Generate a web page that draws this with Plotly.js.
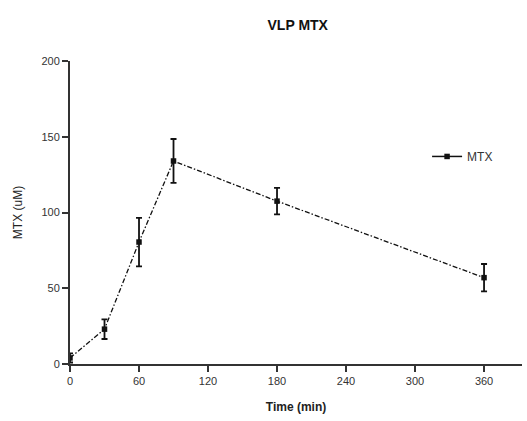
<!DOCTYPE html>
<html>
<head>
<meta charset="utf-8">
<script src="https://cdn.plot.ly/plotly-3.0.1.min.js"></script>
<style>html,body{margin:0;padding:0;background:#fff;}#chart{width:527px;height:421px;}</style>
</head>
<body>
<div id="chart"></div>
<script>
const timeMin = [0, 30, 60, 90, 180, 360];
const mtx = [4, 23, 80.5, 134, 107.5, 57];
const mtxErr = [3, 6.5, 16, 14.5, 8.7, 9];
const xTicks = [0, 60, 120, 180, 240, 300, 360];
const yTicks = [0, 50, 100, 150, 200];
const seriesName = 'MTX';

const trace = {
  x: timeMin, y: mtx, name: seriesName, type: 'scatter', mode: 'lines+markers', showlegend: false,
  line: {color: '#111', width: 1.3, dash: '5px,2px,1.5px,2px'},
  marker: {symbol: 'square', size: 5.5, color: '#111'},
  error_y: {type: 'data', array: mtxErr, visible: true, color: '#111', thickness: 1.8, width: 3}
};
// legend entry (solid line as in the reference legend)
const legendTrace = {
  x: [null], y: [null], name: seriesName, type: 'scatter', mode: 'lines+markers',
  line: {color: '#111', width: 1.5},
  marker: {symbol: 'square', size: 5.5, color: '#111'}
};

const layout = {
  width: 527, height: 421,
  margin: {l: 70, r: 5, t: 61, b: 57},
  paper_bgcolor: '#fff', plot_bgcolor: '#fff',
  font: {family: 'Arial, Liberation Sans, sans-serif', color: '#222'},
  title: {text: '<b>VLP MTX</b>', x: 0.565, xanchor: 'center', y: 0.94, yanchor: 'middle', font: {size: 14, color: '#111'}},
  xaxis: {
    range: [0, 393], tickvals: xTicks, ticktext: xTicks.map(String),
    showgrid: false, zeroline: false, showline: true, linecolor: '#333', linewidth: 2,
    ticks: 'outside', ticklen: 6, tickwidth: 2, tickcolor: '#333',
    tickfont: {size: 11, color: '#333'},
    title: {text: '<b>Time (min)</b>', font: {size: 12, color: '#222'}, standoff: 16}
  },
  yaxis: {
    range: [0, 200], tickvals: yTicks, ticktext: yTicks.map(String),
    showgrid: false, zeroline: false, showline: true, linecolor: '#333', linewidth: 2,
    ticks: 'outside', ticklen: 6, tickwidth: 2, tickcolor: '#333',
    tickfont: {size: 11, color: '#333'},
    title: {text: 'MTX (uM)', font: {size: 12, color: '#222'}, standoff: 16}
  },
  showlegend: true,
  legend: {x: 0.79, y: 0.685, xanchor: 'left', yanchor: 'middle', bgcolor: 'rgba(0,0,0,0)', font: {size: 12, color: '#333'}}
};

Plotly.newPlot('chart', [trace, legendTrace], layout, {displayModeBar: false, staticPlot: true});
</script>
</body>
</html>
